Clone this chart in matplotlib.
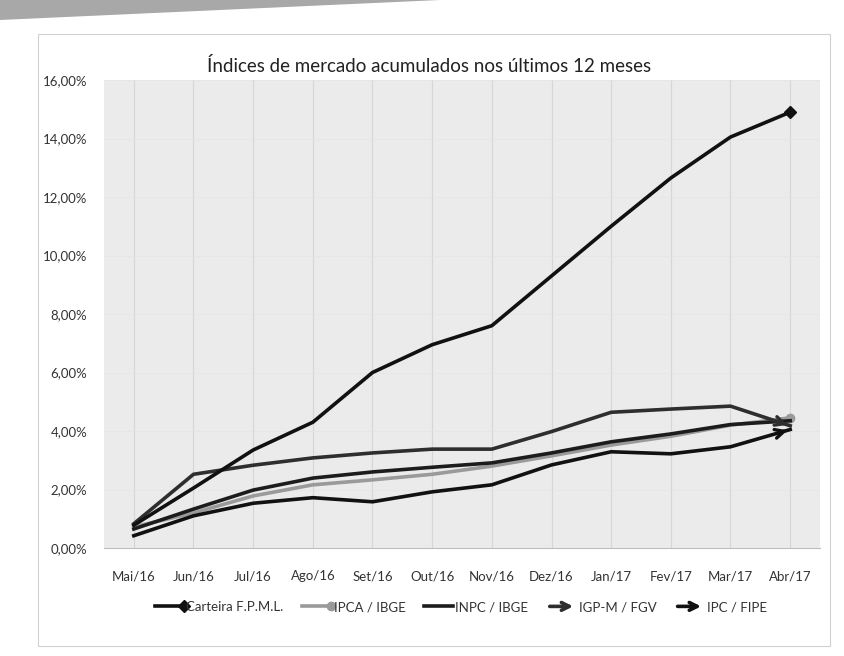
import matplotlib
matplotlib.use("Agg")
import matplotlib.pyplot as plt
from matplotlib.ticker import FixedLocator, FuncFormatter
from matplotlib.patches import FancyArrowPatch, Polygon, Rectangle
from matplotlib.legend_handler import HandlerBase
from matplotlib.lines import Line2D

plt.rcParams['font.family'] = ['Lato', 'DejaVu Sans']

# ---------------- data ----------------
months = ["Mai/16", "Jun/16", "Jul/16", "Ago/16", "Set/16", "Out/16",
          "Nov/16", "Dez/16", "Jan/17", "Fev/17", "Mar/17", "Abr/17"]
carteira = [0.78, 2.05, 3.35, 4.30, 6.00, 6.95, 7.60, 9.30, 11.00, 12.65, 14.05, 14.90]
ipca     = [0.72, 1.20, 1.78, 2.16, 2.33, 2.52, 2.80, 3.15, 3.52, 3.82, 4.20, 4.45]
inpc     = [0.65, 1.33, 1.98, 2.39, 2.60, 2.76, 2.91, 3.25, 3.63, 3.90, 4.22, 4.35]
igpm     = [0.83, 2.52, 2.83, 3.08, 3.25, 3.38, 3.38, 3.98, 4.64, 4.75, 4.85, 4.18]
ipc_fipe = [0.42, 1.10, 1.53, 1.72, 1.58, 1.92, 2.16, 2.84, 3.29, 3.22, 3.46, 4.05]
y_ticks  = [0, 2, 4, 6, 8, 10, 12, 14, 16]
title = "Índices de mercado acumulados nos últimos 12 meses"
labels = ["Carteira F.P.M.L.", "IPCA / IBGE", "INPC / IBGE", "IGP-M / FGV", "IPC / FIPE"]

W, H = 845, 656
fig = plt.figure(figsize=(W / 100, H / 100), dpi=100)
fig.patch.set_facecolor("white")

# scanned page decorations
fig.patches.append(Polygon([[0, 1], [440 / W, 1], [0, 1 - 20 / H]], closed=True,
                           transform=fig.transFigure, facecolor="#a8a8a8",
                           edgecolor="none", zorder=0))
fig.patches.append(Rectangle((38 / W, 10 / H), 792 / W, 612 / H,
                             transform=fig.transFigure, facecolor="none",
                             edgecolor="#d0d0d0", lw=0.8, zorder=0))

ax = fig.add_axes([104 / W, 1 - 548 / H, 716 / W, 468 / H])
ax.set_facecolor("#ebebeb")
x = list(range(len(months)))

lw = 2.6
ax.plot(x, carteira, color="#111111", lw=lw, marker="D", markersize=6,
        markevery=[len(x) - 1], zorder=6)
ax.plot(x, ipca, color="#9a9a9a", lw=lw, marker="o", markersize=6,
        markevery=[len(x) - 1], zorder=4)
ax.plot(x, inpc, color="#1c1c1c", lw=lw, zorder=5)
ax.plot(x, igpm, color="#2e2e2e", lw=lw, zorder=5)
ax.plot(x, ipc_fipe, color="#111111", lw=lw, zorder=5)

# arrow heads at the end of IGP-M and IPC/FIPE
for series, col in ((igpm, "#2e2e2e"), (ipc_fipe, "#111111")):
    ax.annotate("", xy=(x[-1], series[-1]),
                xytext=(x[-2] + 0.75, series[-2] + 0.75 * (series[-1] - series[-2])),
                arrowprops=dict(arrowstyle="->", color=col, lw=2.4, mutation_scale=16),
                zorder=7)

ax.set_xlim(-0.5, len(months) - 0.5)
ax.set_ylim(0, 16)
ax.yaxis.set_major_locator(FixedLocator(y_ticks))
ax.yaxis.set_major_formatter(FuncFormatter(lambda v, p: f"{v:.2f}".replace(".", ",") + "%"))
ax.set_xticks(x)
ax.set_xticklabels(months)
ax.tick_params(axis="both", length=0, labelsize=9.5, colors="#333333")
ax.tick_params(axis="x", pad=16)
ax.tick_params(axis="y", pad=12)
ax.grid(axis="x", color="#d6d6d6", lw=0.8)
ax.grid(axis="y", color="#e4e4e4", lw=0.5)
ax.set_axisbelow(True)
for s in ("top", "right", "left"):
    ax.spines[s].set_visible(False)
ax.spines["bottom"].set_color("#bdbdbd")

fig.text(0.508, 1 - 66 / H, title, ha="center", va="center", fontsize=13.5, color="#222222")


# legend
class LineEnd:
    def __init__(self, color, kind):
        self.color = color
        self.kind = kind


class HandlerLineEnd(HandlerBase):
    def create_artists(self, legend, orig, xd, yd, width, height, fontsize, trans):
        y0 = height / 2 - yd
        arts = []
        if orig.kind == "arrow":
            arts.append(FancyArrowPatch((-xd, y0), (width - xd, y0), arrowstyle="->",
                                        mutation_scale=14, lw=2.6, color=orig.color,
                                        transform=trans))
        else:
            arts.append(Line2D([-xd, width - xd], [y0, y0], color=orig.color, lw=2.6,
                               transform=trans))
            if orig.kind in ("D", "o"):
                arts.append(Line2D([width - xd], [y0], marker=orig.kind, markersize=6,
                                   color=orig.color, transform=trans))
        return arts


handles = [LineEnd("#111111", "D"), LineEnd("#9a9a9a", "o"), LineEnd("#1c1c1c", "line"),
           LineEnd("#2e2e2e", "arrow"), LineEnd("#111111", "arrow")]
fig.legend(handles, labels, handler_map={LineEnd: HandlerLineEnd()},
           loc="center", bbox_to_anchor=(0.545, 1 - 607 / H), ncol=5, frameon=False,
           fontsize=9.5, handlelength=2.2, handletextpad=0.2, columnspacing=1.4,
           labelcolor="#333333")

fig.savefig("out.png", dpi=100)
